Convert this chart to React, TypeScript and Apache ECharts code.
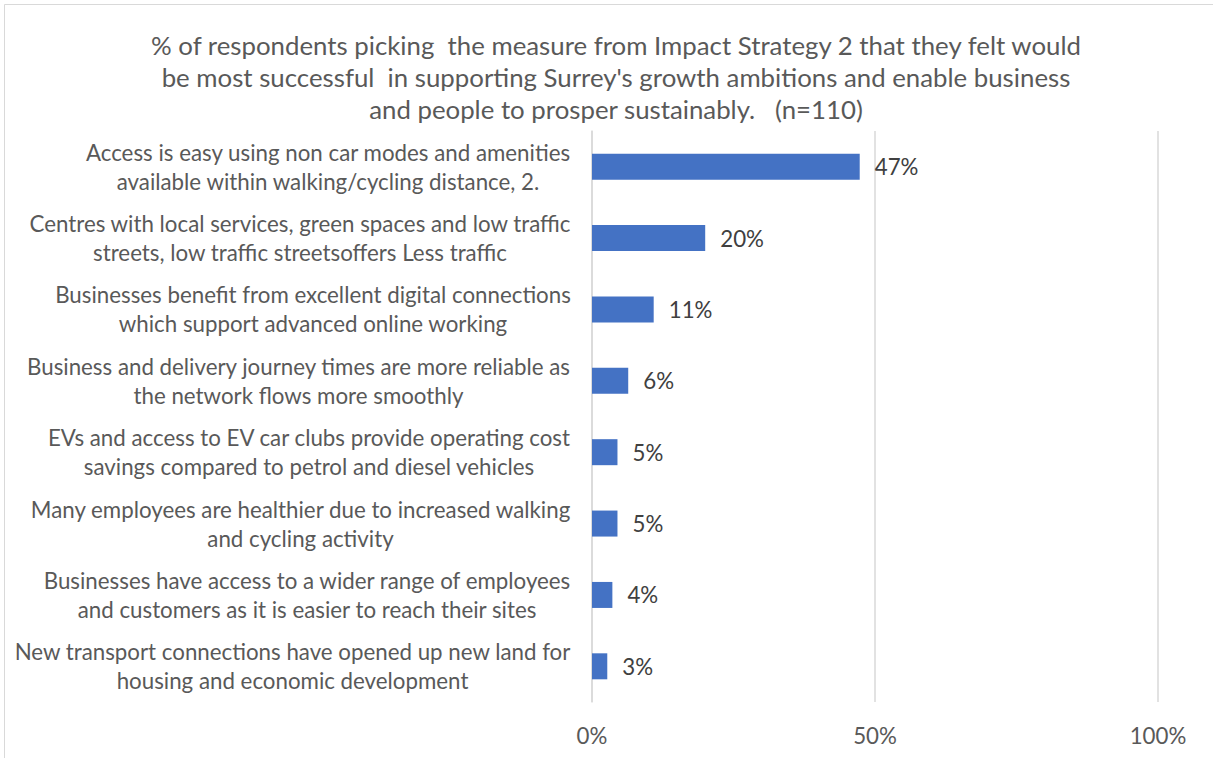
import React, { useEffect, useRef } from "react";
import * as echarts from "echarts";

const titleLines = [
  "% of respondents picking  the measure from Impact Strategy 2 that they felt would",
  "be most successful  in supporting Surrey's growth ambitions and enable business",
  "and people to prosper sustainably.   (n=110)",
];

const categories = [
  "Access is easy using non car modes and amenities\navailable within walking/cycling distance, 2.",
  "Centres with local services, green spaces and low traffic\nstreets, low traffic streetsoffers Less traffic",
  "Businesses benefit from excellent digital connections\nwhich support advanced online working",
  "Business and delivery journey times are more reliable as\nthe network flows more smoothly",
  "EVs and access to EV car clubs provide operating cost\nsavings compared to petrol and diesel vehicles",
  "Many employees are healthier due to increased walking\nand cycling activity",
  "Businesses have access to a wider range of employees\nand customers as it is easier to reach their sites",
  "New transport connections have opened up new land for\nhousing and economic development",
];

const values = [47.3, 20.0, 10.9, 6.4, 4.5, 4.5, 3.6, 2.7];

const xTicks = [0, 50, 100];

const FONT = "Lato, 'Open Sans', sans-serif";

function measure(text: string, size: number): number {
  const c = document.createElement("canvas");
  const ctx = c.getContext("2d");
  if (!ctx) return text.length * size * 0.5;
  ctx.font = `${size}px ${FONT}`;
  return ctx.measureText(text).width;
}

export default function App() {
  const ref = useRef<HTMLDivElement>(null);

  useEffect(() => {
    if (!ref.current) return;
    const chart = echarts.init(ref.current, null, { renderer: "svg" });

    // fit font sizes to the reference's text widths
    const labelSize = +(18 * 557 / measure("New transport connections have opened up new land for", 18)).toFixed(1);
    const titleSize = +(22 * 933 / measure(titleLines[0], 22)).toFixed(1);

    const rich: Record<string, any> = {};
    categories.forEach((c, i) => {
      const w = Math.max(...c.split("\n").map((l) => measure(l, labelSize)));
      rich["c" + i] = {
        width: Math.ceil(w) + 2,
        align: "center",
        fontSize: labelSize,
        fontFamily: FONT,
        color: "#595959",
        lineHeight: 29,
      };
    });

    chart.setOption({
      animation: false,
      backgroundColor: "#ffffff",
      title: {
        text: titleLines.join("\n"),
        left: 611,
        top: 24,
        textAlign: "center",
        textStyle: {
          fontFamily: FONT,
          fontSize: titleSize,
          fontWeight: "normal",
          color: "#595959",
          lineHeight: 32,
        },
      },
      graphic: [
        {
          type: "rect",
          shape: { x: 4.5, y: 4.5, width: 1220, height: 770 },
          style: { fill: "none", stroke: "#d9d9d9", lineWidth: 1 },
          silent: true,
        },
      ],
      grid: {
        left: 592,
        right: 55,
        top: 131,
        bottom: 56,
        outerBoundsMode: "none",
        containLabel: false,
      },
      xAxis: {
        type: "value",
        min: xTicks[0],
        max: xTicks[xTicks.length - 1],
        interval: xTicks[1] - xTicks[0],
        axisLine: { show: false },
        axisTick: { show: false },
        splitLine: { show: true, lineStyle: { color: "#d9d9d9", width: 1.5 } },
        axisLabel: {
          formatter: "{value}%",
          fontFamily: FONT,
          fontSize: labelSize,
          color: "#595959",
          margin: 22,
        },
      },
      yAxis: {
        type: "category",
        inverse: true,
        data: categories,
        axisLine: { show: true, lineStyle: { color: "#d9d9d9", width: 1.5 } },
        axisTick: { show: false },
        axisLabel: {
          margin: 20,
          align: "right",
          formatter: (v: string, i: number) =>
            v.split("\n").map((l) => `{c${i}|${l}}`).join("\n"),
          rich,
        },
      },
      series: [
        {
          type: "bar",
          data: values,
          barWidth: 26,
          itemStyle: { color: "#4472C4" },
          label: {
            show: true,
            position: "right",
            distance: 15,
            formatter: (p: any) => Math.round(p.value) + "%",
            fontFamily: FONT,
            fontSize: labelSize,
            color: "#404040",
          },
        },
      ],
    });

    return () => chart.dispose();
  }, []);

  return (
    <div
      ref={ref}
      style={{ position: "absolute", left: 0, top: 0, width: 1213, height: 758 }}
    />
  );
}
